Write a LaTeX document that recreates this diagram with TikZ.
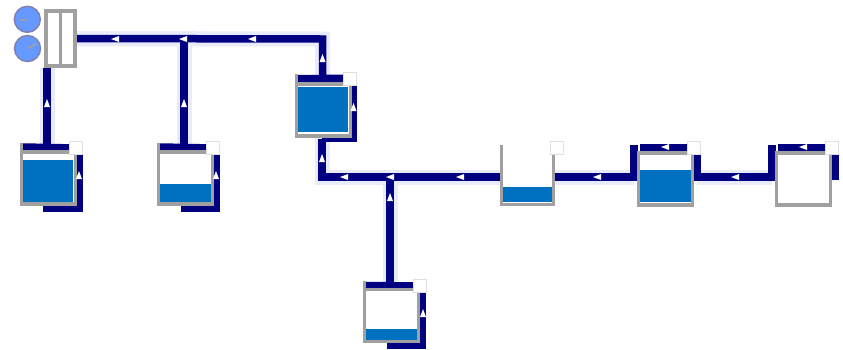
\documentclass[tikz,border=0pt]{standalone}
\usetikzlibrary{backgrounds,calc}
\definecolor{navy}{HTML}{000080}
\definecolor{halo}{HTML}{E9EBFA}
\definecolor{water}{HTML}{0070C0}
\definecolor{frameg}{HTML}{A0A0A0}
\definecolor{pumpb}{HTML}{6699FF}
\tikzset{
  halopipe/.style={draw=halo,line width=15pt,line join=miter},
  pipe/.style={draw=navy,line width=7.5pt,line join=miter},
  tankbox/.style={draw=frameg,line width=3.5pt,fill=white,minimum width=54pt,minimum height=52pt,inner sep=0pt,outer sep=0pt},
  framepost/.style={draw=frameg,line width=3.5pt},
  valvebox/.style={fill=white,draw=black!12,line width=.6pt,minimum size=12.5pt,inner sep=0pt,outer sep=0pt},
  pumpc/.style={circle,draw=frameg!80!blue,line width=1.5pt,fill=pumpb,minimum size=26pt,inner sep=0pt},
  manif/.style={draw=frameg,line width=4pt,fill=white,minimum width=29pt,minimum height=55pt,inner sep=0pt,outer sep=0pt},
  waterfill/.style={fill=water,draw=none},
  flowtip/.style={fill=white,draw=none}
}
\newcommand{\upa}[2]{\fill[flowtip] (#1-3,#2+4) -- (#1+3,#2+4) -- (#1,#2-4) -- cycle;}
\newcommand{\lefta}[2]{\fill[flowtip] (#1+4,#2-3) -- (#1+4,#2+3) -- (#1-4,#2) -- cycle;}
\begin{document}
\begin{tikzpicture}[x=1pt,y=-1pt]
\useasboundingbox (0,0) rectangle (843,349);
% tanks
\node[tankbox] (t1) at (48.5,178) {};
\node[tankbox] (t2) at (185.5,178) {};
\node[tankbox] (t3) at (323.5,110) {};
\node[tankbox,draw=none] (t4) at (527.5,176) {};
\node[tankbox] (t5) at (665.5,179) {};
\node[tankbox] (t6) at (803.5,179) {};
\node[tankbox] (t7) at (391.5,315.5) {};
\draw[framepost] (501.5,145) -- (501.5,204.5) -- (553.5,204.5) -- (553.5,150);
% frame posts beside the top bars
\draw[framepost] (t1.north west) -- ++(0,-9);
\draw[framepost] (t2.north west) -- ++(0,-9);
\draw[framepost] (t3.north west) -- ++(0,-10);
\draw[framepost] (t7.north west) -- ++(0,-9);
% water
\fill[waterfill] (23,160) rectangle (73,202);
\fill[waterfill] (160,184) rectangle (211,202);
\fill[waterfill] (298,87) rectangle (348,132);
\fill[waterfill] (503,187) rectangle (552,202);
\fill[waterfill] (640,170) rectangle (691,202);
\fill[waterfill] (366,329) rectangle (417,340);
% valves
\node[valvebox] (v1) at (76,148) {};
\node[valvebox] (v2) at (213,148) {};
\node[valvebox] (v3) at (350,79) {};
\node[valvebox] (v4) at (557,148) {};
\node[valvebox] (v5) at (694,148) {};
\node[valvebox] (v6) at (832,148) {};
\node[valvebox] (v7) at (420,286) {};
% manifold and pumps
\node[manif] (m) at (60.5,38.5) {};
\draw[frameg,line width=3pt] (m.north) -- (m.south);
\node[pumpc] (p1) at (27.3,19.3) {};
\node[pumpc] (p2) at (27.5,48.5) {};
\draw[frameg,line width=1.5pt] (p1.center) -- ++(-8,1);
\draw[frameg,line width=1.5pt] (p2.center) -- ++(9,-5);
% junctions and return legs
\coordinate (ja) at (184,39);
\coordinate (jb) at (322.5,39);
\coordinate (jc) at (322,177);
\coordinate (jd) at (390,177);
\coordinate (r1) at (79,208);
\coordinate (r2) at (216,208);
\coordinate (r3) at (353,138.5);
\coordinate (r7) at (422,345.5);
\begin{scope}[on background layer]
  \draw[halopipe] (47,68) -- (47,145);
  \draw[halopipe] (ja) -- (184,145);
  \draw[halopipe] (m.east) -- (jb) -- (t3.north -| jb);
  \draw[halopipe] (t3.south -| jc) -- (jc) -- (jd) -- (t4.west |- jd);
  \draw[halopipe] (jd) -- (390,282);
  \draw[halopipe] (t4.east |- jd) -- (634,177);
  \draw[halopipe] (697,177) -- (772,177);
  % top pipes
  \draw[pipe] (m.east) -- (jb) -- (322.5,78);
  \draw[pipe] (47,68) -- (47,147);
  \draw[pipe] (ja) -- (184,147);
  % tank 1
  \draw[pipe] (23,147) -- (v1.center);
  \draw[pipe] (r1 |- v1.center) -- (r1) -- (43,208);
  % tank 2
  \draw[pipe] (160,147) -- (v2.center);
  \draw[pipe] (r2 |- v2.center) -- (r2) -- (181,208);
  % tank 3
  \draw[pipe,line width=9pt] (297,79.5) -- (v3.center);
  \draw[pipe] (r3 |- v3.center) -- (r3) -- (jc |- r3);
  \draw[pipe] (jc |- r3) -- (jc) -- (jd) -- (500,177);
  \draw[pipe] (jd) -- (390,285);
  % tank 4 to 5
  \draw[pipe] (555,177) -- (634,177) -- (634,145);
  \draw[pipe] (640,148) -- (v5.center);
  % tank 5 to 6
  \draw[pipe] (697,148) -- (697,177) -- (772,177) -- (772,145);
  \draw[pipe] (778,148) -- (v6.center);
  \draw[pipe] (835,148) -- (835,180);
  % tank 7
  \draw[pipe] (366,285.5) -- (v7.center);
  \draw[pipe] (r7 |- v7.center) -- (r7) -- (387,345.5);
\end{scope}
% flow arrows
\lefta{115}{39} \lefta{183}{39} \lefta{252}{39}
\upa{322.5}{58} \upa{47}{103} \upa{184}{103}
\upa{79}{175} \upa{216}{175} \upa{353.5}{107} \upa{423}{313}
\upa{322}{158} \upa{390}{197}
\lefta{344}{177} \lefta{390}{177} \lefta{460}{177}
\lefta{597}{177} \lefta{735}{177}
\lefta{665}{147} \lefta{803}{147}
\end{tikzpicture}
\end{document}
